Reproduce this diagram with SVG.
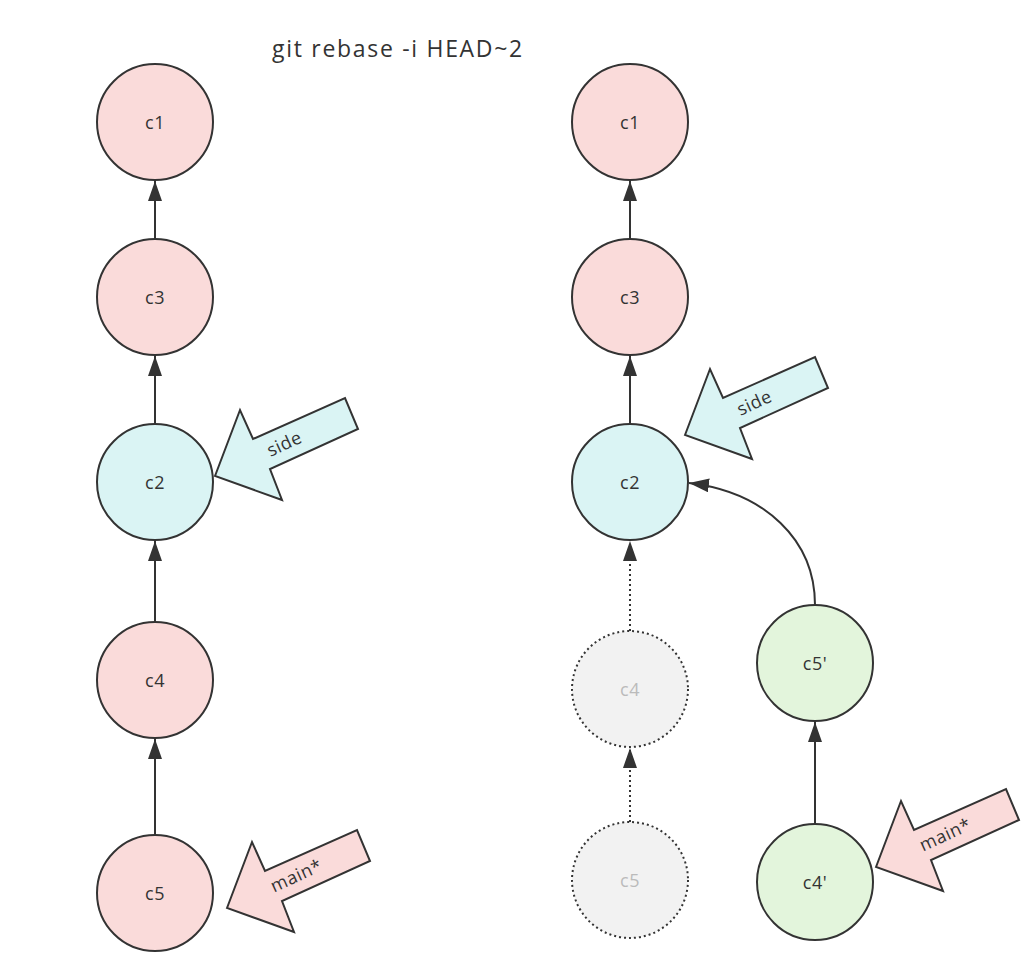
<svg xmlns="http://www.w3.org/2000/svg" width="1036" height="978" viewBox="0 0 1036 978">
<defs>
<style>
.n{stroke:#333;stroke-width:2}
.pink{fill:#fadbda}
.cyan{fill:#daf4f4}
.green{fill:#e3f5dc}
.gray{fill:#f2f2f2;stroke-dasharray:2 3}
.t{font-family:"Open Sans","Noto Sans",sans-serif;font-size:18px;letter-spacing:0.5px;fill:#333;text-anchor:middle;dominant-baseline:central}
.tg{fill:#bbb}
.e{stroke:#333;stroke-width:2;fill:none;marker-end:url(#ah)}
.d{stroke-dasharray:2 3}
.ba{stroke:#333;stroke-width:2;stroke-linejoin:miter}
</style>
<marker id="ah" markerUnits="userSpaceOnUse" markerWidth="20" markerHeight="14" refX="20" refY="7" orient="auto">
<path d="M0,0 L20,7 L0,14 z" fill="#333"/>
</marker>
<polygon id="barrow" points="0,0 25,-66 38,-37 130,-78 143,-47 55,-7 67,24"/>
</defs>
<text x="398" y="48" style="font-family:'Open Sans','Noto Sans',sans-serif;font-size:23px;letter-spacing:1.7px;fill:#333;text-anchor:middle;dominant-baseline:central">git rebase -i HEAD~2</text>
<g id="connectors">
<line class="e" x1="155" y1="239" x2="155" y2="181"/>
<line class="e" x1="155" y1="424" x2="155" y2="356"/>
<line class="e" x1="155" y1="622" x2="155" y2="541"/>
<line class="e" x1="155" y1="835" x2="155" y2="739"/>
<line class="e" x1="630" y1="239" x2="630" y2="181"/>
<line class="e" x1="630" y1="424" x2="630" y2="356"/>
<line class="e d" x1="630" y1="631" x2="630" y2="541"/>
<line class="e d" x1="630" y1="822" x2="630" y2="748"/>
<line class="e" x1="815" y1="824" x2="815" y2="722"/>
<path class="e" d="M815,605 C815,540 765,492 689,483"/>
</g>
<g id="n-c1-l"><circle class="n pink" cx="155" cy="122" r="58"/><text class="t" x="155" y="122">c1</text></g>
<g id="n-c3-l"><circle class="n pink" cx="155" cy="297" r="58"/><text class="t" x="155" y="297">c3</text></g>
<g id="n-c2-l"><circle class="n cyan" cx="155" cy="482" r="58"/><text class="t" x="155" y="482">c2</text></g>
<g id="n-c4-l"><circle class="n pink" cx="155" cy="680" r="58"/><text class="t" x="155" y="680">c4</text></g>
<g id="n-c5-l"><circle class="n pink" cx="155" cy="893" r="58"/><text class="t" x="155" y="893">c5</text></g>
<g id="n-c1-r"><circle class="n pink" cx="630" cy="122" r="58"/><text class="t" x="630" y="122">c1</text></g>
<g id="n-c3-r"><circle class="n pink" cx="630" cy="297" r="58"/><text class="t" x="630" y="297">c3</text></g>
<g id="n-c2-r"><circle class="n cyan" cx="630" cy="482" r="58"/><text class="t" x="630" y="482">c2</text></g>
<g id="n-c4-r"><circle class="n gray" cx="630" cy="689" r="58"/><text class="t tg" x="630" y="689">c4</text></g>
<g id="n-c5-r"><circle class="n gray" cx="630" cy="880" r="58"/><text class="t tg" x="630" y="880">c5</text></g>
<g id="n-c5p"><circle class="n green" cx="815" cy="663" r="58"/><text class="t" x="815" y="663">c5'</text></g>
<g id="n-c4p"><circle class="n green" cx="815" cy="882" r="58"/><text class="t" x="815" y="882">c4'</text></g>
<g id="side-l" transform="translate(215,476)"><use href="#barrow" class="ba cyan"/><text class="t" transform="translate(69,-33) rotate(-24.6)">side</text></g>
<g id="main-l" transform="translate(227,908)"><use href="#barrow" class="ba pink"/><text class="t" transform="translate(69,-33) rotate(-24.6)">main*</text></g>
<g id="side-r" transform="translate(685,435)"><use href="#barrow" class="ba cyan"/><text class="t" transform="translate(69,-33) rotate(-24.6)">side</text></g>
<g id="main-r" transform="translate(876,867)"><use href="#barrow" class="ba pink"/><text class="t" transform="translate(69,-33) rotate(-24.6)">main*</text></g>
</svg>
